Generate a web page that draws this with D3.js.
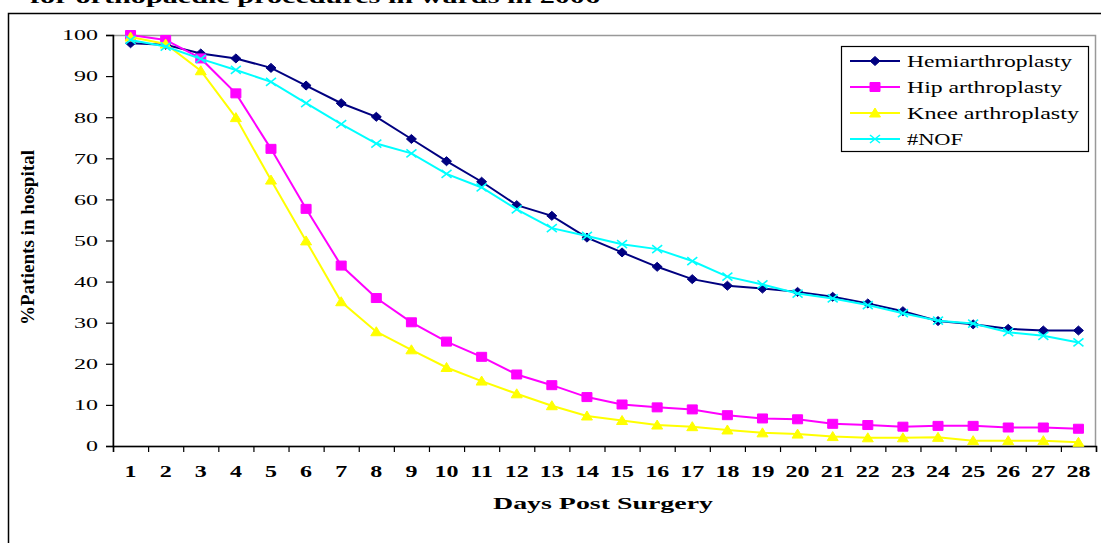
<!DOCTYPE html>
<html>
<head>
<meta charset="utf-8">
<script src="https://cdn.jsdelivr.net/npm/d3@7"></script>
<style>
  body { margin: 0; background: #fff; }
  text { font-family: "Liberation Serif", "DejaVu Serif", serif; }
</style>
</head>
<body>
<div id="chart"></div>
<script>

// data

let days = [1, 2, 3, 4, 5, 6, 7, 8, 9, 10, 11, 12, 13, 14, 15, 16, 17, 18, 19, 20, 21, 22, 23, 24, 25, 26, 27, 28];

let hemi = [98.0, 97.6, 95.5, 94.3, 92.0, 87.7, 83.4, 80.1, 74.7, 69.3, 64.3, 58.6, 56.0, 50.7,
  47.1, 43.6, 40.6, 39.0, 38.3, 37.5, 36.3, 34.7, 32.8, 30.4, 29.6, 28.5, 28.1, 28.1];
let hip = [100, 98.8, 94.3, 85.8, 72.3, 57.7, 43.9, 36.0, 30.1, 25.4, 21.7, 17.4, 14.8, 11.9,
  10.1, 9.4, 8.9, 7.5, 6.7, 6.5, 5.4, 5.1, 4.7, 4.9, 4.9, 4.5, 4.5, 4.2];
let knee = [99.5, 97.8, 91.3, 79.9, 64.7, 49.9, 35.1, 27.8, 23.4, 19.1, 15.8, 12.7, 9.8, 7.3,
  6.2, 5.1, 4.7, 3.9, 3.2, 2.9, 2.3, 2.0, 2.0, 2.1, 1.3, 1.3, 1.3, 0.9];
let nof = [98.8, 97.2, 94.2, 91.5, 88.6, 83.4, 78.3, 73.6, 71.2, 66.2, 62.9, 57.6, 53.0, 51.1,
  49.1, 47.9, 45.0, 41.2, 39.3, 37.1, 35.9, 34.3, 32.3, 30.5, 29.8, 27.7, 26.8, 25.2];

let seriesNames = ["Hemiarthroplasty", "Hip arthroplasty", "Knee arthroplasty", "#NOF"];
let yTicks = [0, 10, 20, 30, 40, 50, 60, 70, 80, 90, 100];

let colors = ["#000080", "#ff00ff", "#ffff00", "#00ffff"];
let shapes = ["diamond", "square", "triangle", "cross"];
let legendWidths = [165, 155, 172, 56];

let series = [hemi, hip, knee, nof].map((vals, i) => ({
  name: seriesNames[i],
  color: colors[i],
  shape: shapes[i],
  values: vals.map((v, j) => ({ day: days[j], value: v }))
}));

let margin = { top: 35, left: 113 };
let width = 983;
let height = 411;

let svg = d3.select("#chart")
  .append("svg")
    .attr("width", 1101)
    .attr("height", 543);

// outer frame of the chart (partly off the picture)

svg.append("rect")
  .attr("x", 8.5)
  .attr("y", 13.5)
  .attr("width", 1200)
  .attr("height", 600)
  .attr("fill", "none")
  .attr("stroke", "#000")
  .attr("stroke-width", 1.5);

// title, cut off at the top

svg.append("text")
  .attr("x", 30)
  .attr("y", 3)
  .attr("textLength", 570)
  .attr("lengthAdjust", "spacingAndGlyphs")
  .style("font-size", "18px")
  .style("font-weight", "bold")
  .text("for orthopaedic procedures in wards in 2006");

let g = svg.append("g")
  .attr("transform", `translate(${margin.left},${margin.top})`);

let x = d3.scaleBand()
  .domain(days)
  .range([0, width]);

let xEdge = d3.scaleLinear()
  .domain([0, days.length])
  .range([0, width]);

let y = d3.scaleLinear()
  .domain([0, 100])
  .range([height, 0]);

// plot area border (grey)

g.append("rect")
  .attr("x", 0)
  .attr("y", 0.5)
  .attr("width", width - 0.5)
  .attr("height", height)
  .attr("fill", "none")
  .attr("stroke", "#999")
  .attr("stroke-width", 1.5);

// y axis

let yAxis = g.append("g")
  .call(d3.axisLeft(y)
    .tickValues(yTicks)
    .tickSize(7)
    .tickPadding(8));

yAxis.select(".domain").attr("stroke", "#000").attr("stroke-width", 1.5);
yAxis.selectAll(".tick line").attr("stroke", "#000").attr("stroke-width", 1.2);
yAxis.selectAll(".tick text")
  .attr("x", -15 / 1.6)
  .attr("transform", "scale(1.6,1)")
  .attr("fill", "#000")
  .style("font-size", "15px")
  .style("font-family", "'Liberation Serif', serif");

// x axis: tick marks between the days

let xTickAxis = g.append("g")
  .attr("transform", `translate(0,${height})`)
  .call(d3.axisBottom(xEdge)
    .tickValues(d3.range(0, days.length + 1))
    .tickSize(6)
    .tickFormat(""));

xTickAxis.select(".domain").attr("stroke", "#000").attr("stroke-width", 1.5);
xTickAxis.selectAll(".tick line").attr("stroke", "#000").attr("stroke-width", 1.2);

// x axis: day labels

let xAxis = g.append("g")
  .attr("transform", `translate(0,${height})`)
  .call(d3.axisBottom(x).tickSize(0));

xAxis.select(".domain").remove();
xAxis.selectAll(".tick text")
  .attr("y", 31)
  .attr("dy", 0)
  .attr("transform", "scale(1.5,1)")
  .attr("fill", "#000")
  .style("font-size", "16px")
  .style("font-weight", "bold")
  .style("font-family", "'Liberation Serif', serif");

// axis titles

svg.append("text")
  .attr("x", 493)
  .attr("y", 509)
  .attr("textLength", 220)
  .attr("lengthAdjust", "spacingAndGlyphs")
  .style("font-size", "17.5px")
  .style("font-weight", "bold")
  .text("Days Post Surgery");

svg.append("text")
  .attr("transform", "translate(34,237.5) scale(1.5,1) rotate(-90)")
  .attr("text-anchor", "middle")
  .attr("textLength", 175)
  .attr("lengthAdjust", "spacingAndGlyphs")
  .style("font-size", "13px")
  .style("font-weight", "bold")
  .text("%Patients in hospital");

// marker shapes

function markerPath(shape) {
  if (shape === "diamond") return "M-5,0L0,-4.5L5,0L0,4.5Z";
  if (shape === "square") return "M-5,-4.5H5V4.5H-5Z";
  if (shape === "triangle") return "M-5.5,4L0,-5L5.5,4Z";
  return "M-5,-4L5,4M-5,4L5,-4";
}

let line = d3.line()
  .x(d => x(d.day) + x.bandwidth() / 2)
  .y(d => y(d.value));

series.forEach(s => {
  g.append("path")
    .datum(s.values)
    .attr("fill", "none")
    .attr("stroke", s.color)
    .attr("stroke-width", 2)
    .attr("d", line);

  g.selectAll(null)
    .data(s.values)
    .join("path")
    .attr("transform", d => `translate(${x(d.day) + x.bandwidth() / 2},${y(d.value)})`)
    .attr("d", markerPath(s.shape))
    .attr("fill", s.shape === "cross" ? "none" : s.color)
    .attr("stroke", s.color)
    .attr("stroke-width", s.shape === "cross" ? 1.6 : 1);
});

// legend

let legend = svg.append("g");

legend.append("rect")
  .attr("x", 841.5)
  .attr("y", 46.5)
  .attr("width", 247)
  .attr("height", 105)
  .attr("fill", "#fff")
  .attr("stroke", "#000")
  .attr("stroke-width", 1.2);

let items = legend.selectAll("g.item")
  .data(series)
  .join("g")
  .attr("class", "item")
  .attr("transform", (d, i) => `translate(0,${61 + i * 26})`);

items.append("line")
  .attr("x1", 850)
  .attr("x2", 900)
  .attr("stroke", d => d.color)
  .attr("stroke-width", 2);

items.append("path")
  .attr("transform", "translate(875,0)")
  .attr("d", d => markerPath(d.shape))
  .attr("fill", d => d.shape === "cross" ? "none" : d.color)
  .attr("stroke", d => d.color)
  .attr("stroke-width", d => d.shape === "cross" ? 1.6 : 1);

items.append("text")
  .attr("x", 907)
  .attr("y", 6)
  .attr("textLength", (d, i) => legendWidths[i])
  .attr("lengthAdjust", "spacingAndGlyphs")
  .style("font-size", "16px")
  .text(d => d.name);

</script>
</body>
</html>
